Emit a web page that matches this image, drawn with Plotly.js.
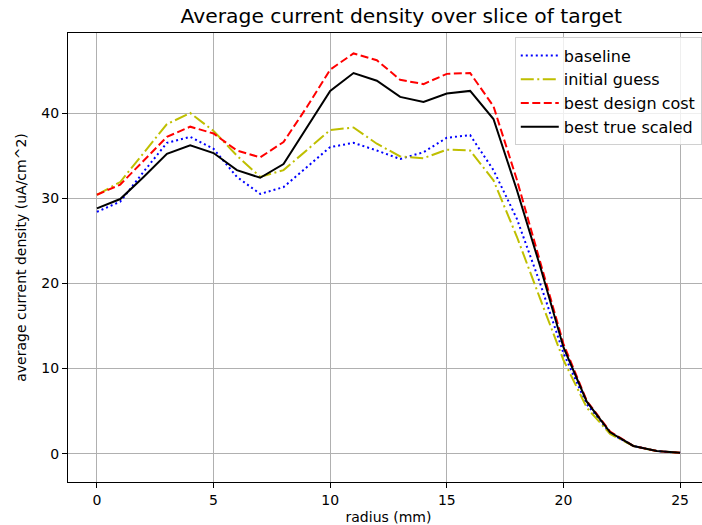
<!DOCTYPE html>
<html>
<head>
<meta charset="utf-8">
<script src="https://cdn.plot.ly/plotly-3.0.1.min.js"></script>
<style>
html, body { margin: 0; padding: 0; overflow: hidden; background: #fff; }
#chart { width: 720px; height: 525px; }
</style>
</head>
<body>
<div id="chart"></div>
<script>
const radius = [0,1,2,3,4,5,6,7,8,9,10,11,12,13,14,15,16,17,18,19,20,21,22,23,24,25];
const baseline = [28.4,29.6,33.1,36.5,37.2,35.8,32.5,30.5,31.3,33.6,36.0,36.5,35.6,34.6,35.4,37.1,37.4,33.3,27.6,20.0,11.8,5.8,2.4,0.9,0.3,0.1];
const initialGuess = [30.4,31.9,35.3,38.7,40.0,37.9,35.0,32.5,33.3,35.7,38.0,38.3,36.4,34.9,34.7,35.7,35.6,32.1,25.5,18.2,11.0,5.4,2.3,0.9,0.3,0.1];
const bestDesignCost = [30.4,31.6,34.4,37.2,38.4,37.6,35.6,34.8,36.6,40.7,45.1,47.0,46.2,43.9,43.4,44.6,44.7,40.8,32.2,22.6,12.9,6.2,2.6,0.9,0.3,0.1];
const bestTrueScaled = [28.8,29.9,32.5,35.2,36.2,35.3,33.3,32.4,34.0,38.3,42.6,44.7,43.8,41.9,41.3,42.3,42.6,39.3,31.0,22.0,12.5,6.1,2.5,0.9,0.3,0.1];
const seriesNames = ["baseline","initial guess","best design cost","best true scaled"];
const xTicks = [0,5,10,15,20,25];
const yTicks = [0,10,20,30,40];

const FONT = "DejaVu Sans, sans-serif";
const traces = [
  {x: radius, y: baseline, name: seriesNames[0], mode: "lines",
   line: {color: "#0000ff", width: 2, dash: "2px,3px"}},
  {x: radius, y: initialGuess, name: seriesNames[1], mode: "lines",
   line: {color: "#bfbf00", width: 2, dash: "13px,3.5px,2px,3.5px"}},
  {x: radius, y: bestDesignCost, name: seriesNames[2], mode: "lines",
   line: {color: "#ff0000", width: 2, dash: "8px,3.5px"}},
  {x: radius, y: bestTrueScaled, name: seriesNames[3], mode: "lines",
   line: {color: "#000000", width: 2}}
];

const axisCommon = {
  showline: true, mirror: true, linecolor: "#000", linewidth: 1,
  ticks: "outside", ticklen: 5, tickwidth: 1, tickcolor: "#000",
  showgrid: true, gridcolor: "#b0b0b0", gridwidth: 1, zeroline: false,
  tickfont: {family: FONT, size: 14, color: "#000"}
};

const layout = {
  width: 720, height: 525,
  margin: {l: 68, r: 11, t: 33, b: 43},
  paper_bgcolor: "#fff", plot_bgcolor: "#fff",
  font: {family: FONT, color: "#000"},
  title: {text: "Average current density over slice of target", font: {family: FONT, size: 20.3, color: "#000"},
          x: 0.52, xref: "paper", xanchor: "center", y: 1, yref: "paper", yanchor: "bottom", pad: {b: 10}},
  xaxis: Object.assign({}, axisCommon, {
    range: [-1.24, 26.24], tickvals: xTicks, ticktext: xTicks.map(String),
    title: {text: "radius (mm)", font: {family: FONT, size: 14, color: "#000"}, standoff: 6}
  }),
  yaxis: Object.assign({}, axisCommon, {
    range: [-3.33, 49.4], tickvals: yTicks, ticktext: yTicks.map(String),
    title: {text: "average current density (uA/cm^2)", font: {family: FONT, size: 14, color: "#000"}, standoff: 11}
  }),
  showlegend: true,
  legend: {
    x: 0.697, y: 0.99, xanchor: "left", yanchor: "top",
    bgcolor: "rgba(255,255,255,0.8)", bordercolor: "#d0d0d0", borderwidth: 1,
    font: {family: FONT, size: 16, color: "#000"}, itemwidth: 38, tracegroupgap: 0
  }
};

Plotly.newPlot("chart", traces, layout, {displayModeBar: false, staticPlot: true});
</script>
</body>
</html>
